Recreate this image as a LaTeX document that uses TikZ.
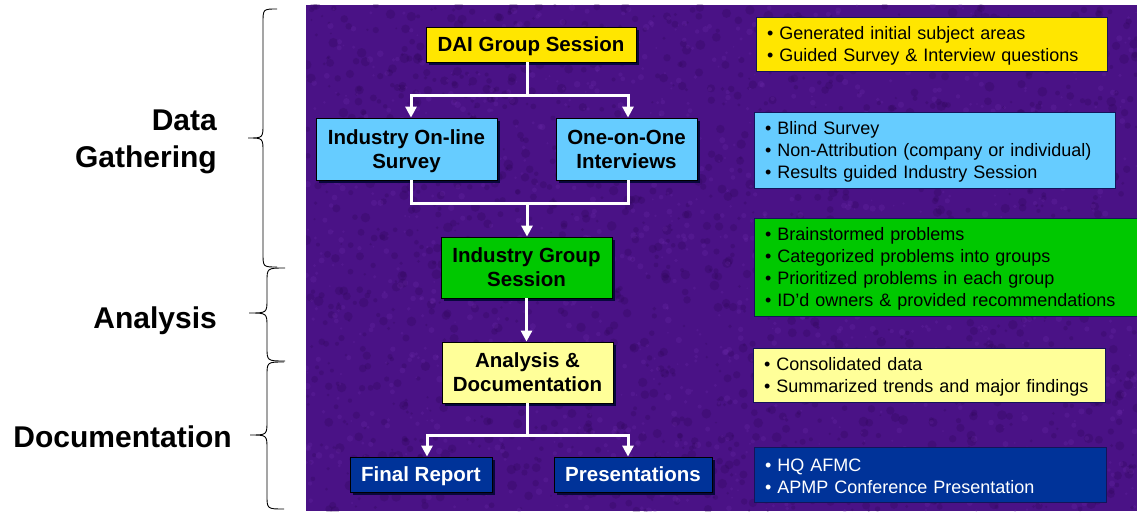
\documentclass[tikz,border=0pt]{standalone}
\usepackage{fontspec}
\setmainfont{Liberation Sans}
\usetikzlibrary{arrows.meta,shadows}

\definecolor{bgpurple}{RGB}{74,18,134}
\definecolor{bgdark}{RGB}{44,6,84}
\definecolor{bglight}{RGB}{118,50,180}
\definecolor{shadowblue}{RGB}{8,8,60}
\definecolor{dgyellow}{RGB}{255,230,0}
\definecolor{skyblue}{RGB}{102,204,255}
\definecolor{grpgreen}{RGB}{0,200,0}
\definecolor{paleyellow}{RGB}{255,255,153}
\definecolor{navy}{RGB}{0,51,153}
\definecolor{edgenavy}{RGB}{20,20,90}

% curly brace: #1 straight x, #2 end x, #3 tip x, #4 top y, #5 tip y, #6 bottom y
\newcommand{\phasebrace}[6]{%
  \draw[bracestroke] (#2,#4) .. controls (#1,#4) .. (#1,#4+14)
    -- (#1,#5-14) .. controls (#1,#5) .. (#3,#5)
    .. controls (#1,#5) .. (#1,#5+14)
    -- (#1,#6-14) .. controls (#1,#6) .. (#2,#6);}
% bullet item; the first one carries a strut that centres the lines optically
\newcommand{\firstpoint}{\rule{0pt}{17pt}\textbullet\ }
\newcommand{\point}{\textbullet\ }

\tikzset{
  stepbox/.style={draw=black, line width=0.8pt, inner sep=0pt, align=center,
    text depth=0pt,
    font=\fontsize{20.5}{24}\selectfont\bfseries,
    drop shadow={shadow xshift=3pt, shadow yshift=-3pt, fill=shadowblue, opacity=1}},
  note/.style={draw=edgenavy, line width=0.6pt, inner xsep=11pt, inner ysep=0pt,
    align=left, font=\fontsize{18}{22}\selectfont},
  phase/.style={inner sep=0pt, font=\fontsize{30}{37}\selectfont\bfseries},
  wire/.style={draw=white, line width=3pt, line join=miter},
  flow/.style={wire, -{Triangle[width=11pt,length=11pt]}},
  bracestroke/.style={draw=black, line width=0.9pt},
}

\begin{document}
\begin{tikzpicture}[x=1pt,y=-1pt]
\useasboundingbox (0,0) rectangle (1137,511);
\fill[white] (0,0) rectangle (1137,511);

% textured purple panel
\fill[bgpurple] (306,5) rectangle (1137,511);
\begin{scope}
  \clip (306,5) rectangle (1137,511);
  \pgfmathsetseed{17}
  \foreach \i in {1,...,1800} {
    \pgfmathsetmacro\px{306+rnd*831}
    \pgfmathsetmacro\py{5+rnd*506}
    \pgfmathsetmacro\pr{1+rnd*4}
    \fill[bgdark, opacity=0.25] (\px,\py) circle (\pr pt);
  }
  \foreach \i in {1,...,1400} {
    \pgfmathsetmacro\px{306+rnd*831}
    \pgfmathsetmacro\py{5+rnd*506}
    \pgfmathsetmacro\pr{0.8+rnd*2.5}
    \fill[bglight, opacity=0.2] (\px,\py) circle (\pr pt);
  }
\end{scope}

% phase labels and braces
\node[phase, anchor=east, align=right] (gather) at (217,142) {Data\\Gathering};
\node[phase, anchor=east] (analysis) at (217,321) {Analysis};
\node[phase, anchor=east] (docu) at (232,437) {Documentation};
\phasebrace{263}{277}{248}{9}{138}{267}
\phasebrace{267}{285}{249}{268}{313}{361}
\phasebrace{267}{284}{250}{362}{435}{509}

% process steps
\node[stepbox, fill=dgyellow, minimum width=210pt, minimum height=35pt] (dai) at (531,44.5) {DAI Group Session};
\node[stepbox, fill=skyblue, minimum width=181pt, minimum height=62pt] (survey) at (406.5,149) {Industry On-line\\Survey};
\node[stepbox, fill=skyblue, minimum width=141pt, minimum height=62pt] (interviews) at (626.5,149) {One-on-One\\Interviews};
\node[stepbox, fill=grpgreen, minimum width=171pt, minimum height=61pt] (igs) at (526.5,267.5) {Industry Group\\Session};
\node[stepbox, fill=paleyellow, minimum width=171pt, minimum height=61pt] (ad) at (527.5,372.5) {Analysis \&\\Documentation};
\node[stepbox, fill=navy, text=white, minimum width=142pt, minimum height=35pt] (final) at (421,474.5) {Final Report};
\node[stepbox, fill=navy, text=white, minimum width=158pt, minimum height=35pt] (pres) at (633,474.5) {Presentations};

% connectors
\coordinate (split1) at (527,95);
\coordinate (merge) at (527,203);
\coordinate (split2) at (527,435);
\draw[wire] ([xshift=-4pt]dai.south) -- (split1);
\draw[flow] (split1) -| ([xshift=4.5pt]survey.north);
\draw[flow] (split1) -| ([xshift=1.5pt]interviews.north);
\draw[wire] ([xshift=4.5pt]survey.south) |- (merge) -| ([xshift=1.5pt]interviews.south);
\draw[flow] (merge) -- (merge |- igs.north);
\draw[flow] (igs.south) -- (igs.south |- ad.north);
\draw[wire] (ad.south) -- (ad.south |- split2) -- (split2);
\draw[flow] (split2) -| ([xshift=6pt]final.north);
\draw[flow] (split2) -| ([xshift=-5pt]pres.north);

% notes
\node[note, fill=dgyellow, text width=329pt, minimum height=54pt] (n1) at (931.5,44)
  {\firstpoint Generated initial subject areas\\\point Guided Survey \& Interview questions};
\node[note, fill=skyblue, text width=339pt, minimum height=76pt] (n2) at (934.5,150)
  {\firstpoint Blind Survey\\\point Non-Attribution (company or individual)\\\point Results guided Industry Session};
\node[note, fill=grpgreen, text width=364pt, minimum height=98pt] (n3) at (947,267)
  {\firstpoint Brainstormed problems\\\point Categorized problems into groups\\\point Prioritized problems in each group\\\point ID’d owners \& provided recommendations};
\node[note, fill=paleyellow, text width=330pt, minimum height=54pt] (n4) at (929,375)
  {\firstpoint Consolidated data\\\point Summarized trends and major findings};
\node[note, fill=navy, text=white, text width=330pt, minimum height=55pt] (n5) at (930,474.5)
  {\firstpoint HQ AFMC\\\point APMP Conference Presentation};
\end{tikzpicture}
\end{document}
